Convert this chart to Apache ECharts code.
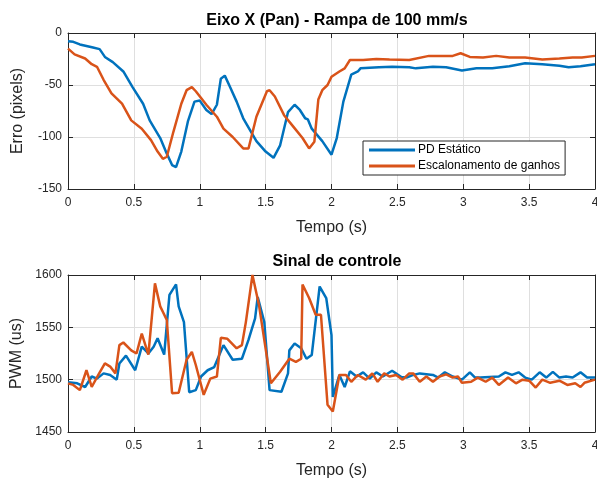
<!DOCTYPE html>
<html>
<head>
<meta charset="utf-8">
<script src="https://cdn.jsdelivr.net/npm/echarts@6/dist/echarts.min.js"></script>
<style>html,body{margin:0;padding:0;background:#fff;}#c{width:597px;height:484px;}</style>
</head>
<body>
<div id="c"></div>
<script>
var seriesNames = ['PD Estático', 'Escalonamento de ganhos'];
var xTicks = [0, 0.5, 1, 1.5, 2, 2.5, 3, 3.5, 4];

var errPdT = [0,0.04,0.09,0.19,0.24,0.28,0.34,0.42,0.49,0.57,0.62,0.70,0.75,0.79,0.82,0.86,0.91,0.96,1.0,1.05,1.09,1.13,1.16,1.19,1.23,1.28,1.33,1.43,1.50,1.56,1.61,1.67,1.72,1.76,1.80,1.82,1.85,1.93,2.0,2.04,2.09,2.15,2.20,2.22,2.36,2.46,2.59,2.64,2.77,2.87,2.99,3.10,3.22,3.35,3.47,3.60,3.73,3.80,3.89,4.0];
var errPdV = [-8,-8.5,-11,-14,-15.5,-23,-28,-37,-52,-68,-84,-101,-116,-127,-129,-114,-85,-66,-65,-74,-78,-69,-44,-41,-52,-66,-82,-104,-114,-120,-108,-76,-69,-74,-82,-83,-92,-104,-117,-101,-66,-40,-37,-34,-33,-32.5,-33,-34,-32.5,-33,-36,-34,-34,-32,-29,-30,-31.5,-33,-32,-30];

var errEgT = [0,0.05,0.13,0.18,0.22,0.27,0.33,0.41,0.48,0.56,0.63,0.68,0.72,0.75,0.80,0.86,0.90,0.94,0.97,1.05,1.13,1.18,1.25,1.33,1.37,1.43,1.51,1.53,1.57,1.64,1.71,1.78,1.83,1.87,1.90,1.93,1.97,2.0,2.06,2.10,2.14,2.24,2.34,2.44,2.59,2.74,2.92,2.98,3.05,3.15,3.25,3.35,3.47,3.60,3.73,3.83,3.90,4.0];
var errEgV = [-15,-20.5,-24.5,-30,-32.5,-45,-58,-68,-84,-92,-103,-114,-121,-119,-95,-68,-55,-52,-56,-69,-80.5,-92,-100,-111,-111,-80.5,-56,-55,-61,-79,-90,-101,-111,-104.5,-64,-55,-50,-42,-37,-34,-26,-26,-25,-25.5,-26,-22,-22,-19.5,-23,-23.5,-22,-23.5,-23.5,-25.5,-24.5,-23.5,-23.5,-22];

var pwmPdT = [0,0.07,0.13,0.18,0.22,0.27,0.32,0.37,0.39,0.44,0.51,0.56,0.61,0.65,0.68,0.73,0.77,0.82,0.84,0.88,0.92,0.97,1.01,1.06,1.11,1.18,1.25,1.32,1.37,1.42,1.44,1.49,1.53,1.62,1.67,1.68,1.72,1.77,1.81,1.85,1.91,1.96,2.0,2.01,2.06,2.10,2.14,2.19,2.24,2.29,2.34,2.39,2.46,2.53,2.57,2.62,2.67,2.77,2.81,2.86,2.92,2.99,3.05,3.09,3.13,3.27,3.32,3.37,3.42,3.47,3.52,3.58,3.63,3.68,3.73,3.78,3.83,3.89,3.94,4.0];
var pwmPdV = [1497.5,1496.5,1493,1503,1501,1506,1504.5,1500,1515.5,1523,1509,1531.5,1525,1531.5,1539.5,1524,1581,1591,1570,1555,1488,1490,1503,1509,1512,1533,1519,1520,1538,1558.5,1579,1555,1490,1488.5,1506,1528,1534.5,1530,1520,1523.5,1589,1578,1542.5,1483.5,1504.5,1493,1508,1503,1507,1501,1507,1503,1508.5,1502.5,1502,1504.5,1506,1504.5,1502,1507,1503,1500,1507,1502,1502,1503,1507,1504.5,1507,1502,1500,1507,1502,1507.5,1502,1503,1502,1507,1502,1502];

var pwmEgT = [0,0.04,0.09,0.14,0.18,0.23,0.28,0.32,0.36,0.39,0.42,0.48,0.52,0.56,0.61,0.66,0.70,0.75,0.79,0.84,0.90,0.94,0.97,1.03,1.08,1.13,1.16,1.21,1.28,1.32,1.35,1.40,1.45,1.54,1.61,1.68,1.73,1.77,1.78,1.83,1.88,1.92,1.97,2.01,2.06,2.11,2.15,2.20,2.26,2.31,2.35,2.40,2.44,2.49,2.54,2.59,2.62,2.67,2.72,2.77,2.82,2.87,2.92,2.96,2.99,3.06,3.11,3.17,3.22,3.27,3.34,3.40,3.45,3.50,3.55,3.60,3.66,3.73,3.79,3.85,3.89,3.92,4.0];
var pwmEgV = [1496.5,1495,1490,1509,1493,1504.5,1515.5,1512.5,1506,1533,1535.5,1528,1525,1544,1524,1592,1570,1557,1487,1487.5,1519,1526.5,1514,1485.5,1501,1503,1540,1539,1530,1533,1555,1600,1571,1496.5,1507.5,1520,1517,1520,1591,1578,1562,1562,1476,1469.5,1504.5,1504.5,1498,1504.5,1500,1506,1498,1506,1503,1504.5,1500,1506,1506,1498,1503,1498,1503,1505,1502,1503,1497,1498,1502,1498,1502,1495,1502,1496.5,1500,1499,1492.5,1500,1497,1499,1495,1496.5,1493,1497,1500];

function pairs(t, v) { return t.map(function (x, i) { return [x, v[i]]; }); }

var FONT = 'Liberation Sans';
var AX = '#262626';
var colors = ['#0072BD', '#D95319'];

function xAx(gi, showLabel, pos) {
  return {
    type: 'value', gridIndex: gi, min: 0, max: 4, interval: 0.5, position: pos,
    name: showLabel ? 'Tempo (s)' : '', nameLocation: 'middle', nameGap: 31,
    nameTextStyle: { fontFamily: FONT, fontSize: 16, color: AX },
    axisLine: { show: true, onZero: false, lineStyle: { color: AX, width: 1 } },
    axisTick: { show: true, inside: true, length: 5, lineStyle: { color: AX } },
    axisLabel: { show: showLabel, fontFamily: FONT, fontSize: 12, color: AX, margin: 8,
      formatter: function (v) { return String(v); } },
    splitLine: { show: showLabel, lineStyle: { color: '#dfdfdf', width: 1 } }
  };
}
function yAx(gi, showLabel, pos, min, max, name) {
  return {
    type: 'value', gridIndex: gi, min: min, max: max, interval: 50, position: pos,
    name: showLabel ? name : '', nameLocation: 'middle', nameGap: 42,
    nameTextStyle: { fontFamily: FONT, fontSize: 16, color: AX },
    axisLine: { show: true, onZero: false, lineStyle: { color: AX, width: 1 } },
    axisTick: { show: true, inside: true, length: 5, lineStyle: { color: AX } },
    axisLabel: { show: showLabel, fontFamily: FONT, fontSize: 12, color: AX, margin: 6,
      formatter: function (v) { return String(v); } },
    splitLine: { show: showLabel, lineStyle: { color: '#dfdfdf', width: 1 } }
  };
}

var option = {
  animation: false,
  backgroundColor: '#ffffff',
  color: colors,
  title: [
    { text: 'Eixo X (Pan) - Rampa de 100 mm/s', left: 332, top: 8, textAlign: 'center',
      textStyle: { fontFamily: FONT, fontSize: 16, fontWeight: 'bold', color: '#000' } },
    { text: 'Sinal de controle', left: 332, top: 249, textAlign: 'center',
      textStyle: { fontFamily: FONT, fontSize: 16, fontWeight: 'bold', color: '#000' } }
  ],
  grid: [
    { left: 68, top: 33, width: 527, height: 156, containLabel: false, outerBoundsMode: 'none' },
    { left: 68, top: 275, width: 527, height: 157, containLabel: false, outerBoundsMode: 'none' }
  ],
  xAxis: [xAx(0, true, 'bottom'), xAx(0, false, 'top'), xAx(1, true, 'bottom'), xAx(1, false, 'top')],
  yAxis: [
    yAx(0, true, 'left', -150, 0, 'Erro (pixels)'),
    yAx(0, false, 'right', -150, 0, ''),
    yAx(1, true, 'left', 1450, 1600, 'PWM (us)'),
    yAx(1, false, 'right', 1450, 1600, '')
  ],
  legend: {
    data: seriesNames, orient: 'vertical', left: 363, top: 141,
    icon: 'rect', itemWidth: 46, itemHeight: 3, itemGap: 4,
    padding: [3, 5, 3, 6], borderColor: AX, borderWidth: 1, backgroundColor: '#fff',
    textStyle: { fontFamily: FONT, fontSize: 12, color: '#000', padding: [0, 0, 0, -2] }
  },
  series: [
    { name: seriesNames[0], type: 'line', xAxisIndex: 0, yAxisIndex: 0, data: pairs(errPdT, errPdV),
      showSymbol: false, lineStyle: { width: 2.5, color: colors[0] }, itemStyle: { color: colors[0] }, z: 3 },
    { name: seriesNames[1], type: 'line', xAxisIndex: 0, yAxisIndex: 0, data: pairs(errEgT, errEgV),
      showSymbol: false, lineStyle: { width: 2.5, color: colors[1] }, itemStyle: { color: colors[1] }, z: 4 },
    { name: seriesNames[0], type: 'line', xAxisIndex: 2, yAxisIndex: 2, data: pairs(pwmPdT, pwmPdV),
      showSymbol: false, lineStyle: { width: 2.5, color: colors[0] }, itemStyle: { color: colors[0] }, z: 3 },
    { name: seriesNames[1], type: 'line', xAxisIndex: 2, yAxisIndex: 2, data: pairs(pwmEgT, pwmEgV),
      showSymbol: false, lineStyle: { width: 2.5, color: colors[1] }, itemStyle: { color: colors[1] }, z: 4 }
  ]
};
var chart = echarts.init(document.getElementById('c'), null, { renderer: 'canvas' });
chart.setOption(option);
</script>
</body>
</html>
